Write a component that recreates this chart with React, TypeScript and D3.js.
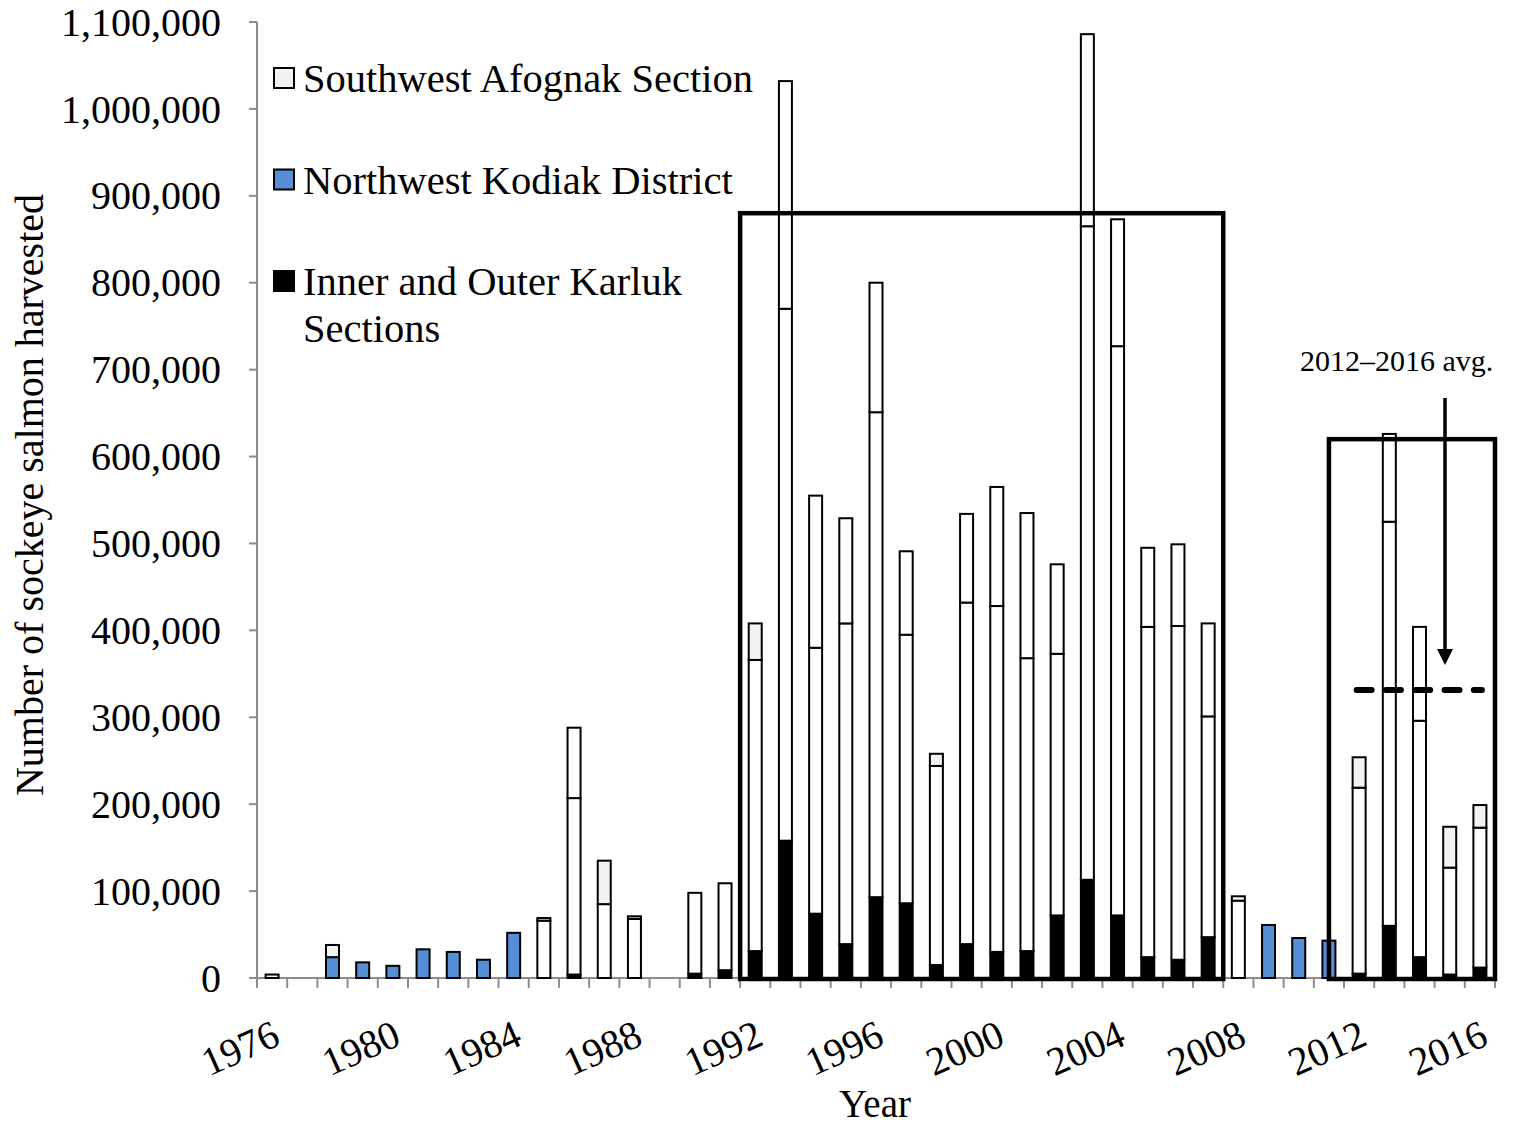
import React from "react";
import * as d3 from "d3";

const years: number[] = d3.range(1976, 2017);

// Inner and Outer Karluk Sections (bottom, black)
const karluk: number[] = [
  0, 0, 0, 0, 0, 0, 0, 0, 0, 0,
  4000, 0, 0, 0, 5000, 9000, 31000, 158000, 74000, 39000,
  93000, 86000, 15000, 39000, 30000, 31000, 72000, 113000, 72000, 24000,
  21000, 47000, 0, 0, 0, 0, 5000, 60000, 24000, 4000,
  12000,
];

// Northwest Kodiak District (middle)
const nwKodiak: number[] = [
  0, 0, 24000, 18000, 14000, 33000, 30000, 21000, 52000, 66000,
  203000, 85000, 68000, 0, 93000, 100000, 335000, 612000, 306000, 369000,
  558000, 309000, 229000, 393000, 398000, 337000, 301000, 752000, 655000, 380000,
  384000, 254000, 89000, 61000, 46000, 43000, 214000, 465000, 272000, 123000,
  161000,
];

// Southwest Afognak Section (top)
const swAfognak: number[] = [
  4000, 0, 14000, 0, 0, 0, 0, 0, 0, 3000,
  81000, 50000, 3000, 0, 0, 0, 42000, 262000, 175000, 121000,
  149000, 96000, 14000, 102000, 137000, 167000, 103000, 221000, 146000, 91000,
  94000, 107000, 5000, 0, 0, 0, 35000, 101000, 108000, 47000,
  26000,
];

// Years whose middle segment is drawn in the legend's blue
const blueMidYears: number[] = [1978, 1979, 1980, 1981, 1982, 1983, 1984, 2009, 2010, 2011];
// Years whose top segment is drawn in light grey
const greyTopYears: number[] = [1976, 1978, 1987, 1992, 1998, 2012, 2015, 2016];

const yTicks: number[] = d3.range(0, 1100001, 100000);
const xLabelYears: number[] = [1976, 1980, 1984, 1988, 1992, 1996, 2000, 2004, 2008, 2012, 2016];

const legendItems = [
  { label: ["Southwest Afognak Section"], fill: "#F2F2F2" },
  { label: ["Northwest Kodiak District"], fill: "#558ED5" },
  { label: ["Inner and Outer Karluk", "Sections"], fill: "#000000" },
];

const box1 = { from: 1992, to: 2007, top: 880000 };
const box2 = { from: 2011, to: 2016, top: 620000 };
const avgYears: number[] = [2012, 2013, 2014, 2015, 2016];

const W = 1513;
const H = 1128;
const FONT = "'Liberation Serif', 'Times New Roman', serif";
const AXIS_GREY = "#8C8C8C";

export default function App() {
  const x = d3.scaleBand<number>().domain(years).range([257, 1495]).padding(0);
  const y = d3.scaleLinear().domain([0, 1100000]).range([978, 22]);
  const bw = 13;
  const cx = (yr: number) => (x(yr) as number) + x.bandwidth() / 2;

  const totals = years.map((_, i) => karluk[i] + nwKodiak[i] + swAfognak[i]);
  const avg = d3.mean(avgYears.map((yr) => totals[years.indexOf(yr)])) as number;

  const segments: { yr: number; y0: number; y1: number; fill: string; key: string }[] = [];
  years.forEach((yr, i) => {
    const parts = [
      { v: karluk[i], fill: "#000000" },
      { v: nwKodiak[i], fill: blueMidYears.includes(yr) ? "#558ED5" : "#FFFFFF" },
      { v: swAfognak[i], fill: greyTopYears.includes(yr) ? "#F2F2F2" : "#FFFFFF" },
    ];
    let acc = 0;
    parts.forEach((p, j) => {
      if (p.v > 0) {
        segments.push({ yr, y0: acc, y1: acc + p.v, fill: p.fill, key: `${yr}-${j}` });
      }
      acc += p.v;
    });
  });

  const boundaries = d3.range(0, years.length + 1).map((i) => 257 + i * x.bandwidth());

  const b1x0 = x(box1.from) as number;
  const b1x1 = (x(box1.to) as number) + x.bandwidth();
  const b2x0 = cx(box2.from);
  const b2x1 = (x(box2.to) as number) + x.bandwidth();

  const dashX0 = cx(avgYears[0]) - bw / 2 + 4;
  const dashX1 = cx(avgYears[avgYears.length - 1]) + 2;
  const arrowX = 1445;

  return (
    <svg width={W} height={H} style={{ display: "block", position: "absolute", left: 0, top: 0 }} fontFamily={FONT}>
      <rect width={W} height={H} fill="#fff" />
      {/* y axis */}
      <line x1={257} x2={257} y1={y(1100000)} y2={y(0)} stroke={AXIS_GREY} strokeWidth={2} />
      {yTicks.map((t) => (
        <g key={t}>
          <line x1={249} x2={257} y1={y(t)} y2={y(t)} stroke={AXIS_GREY} strokeWidth={2} />
          <text x={221} y={y(t)} dy="0.34em" textAnchor="end" fontSize={40} fill="#000">
            {d3.format(",")(t)}
          </text>
        </g>
      ))}
      {/* x axis */}
      <line x1={257} x2={1495} y1={y(0)} y2={y(0)} stroke={AXIS_GREY} strokeWidth={2} />
      {boundaries.map((bx, i) => (
        <line key={i} x1={bx} x2={bx} y1={y(0)} y2={y(0) + 10} stroke={AXIS_GREY} strokeWidth={2} />
      ))}
      {xLabelYears.map((yr) => (
        <text
          key={yr}
          transform={`translate(${cx(yr) + 10},${1044}) rotate(-24)`}
          textAnchor="end"
          fontSize={40}
          fill="#000"
        >
          {yr}
        </text>
      ))}
      {/* bars */}
      {segments.map((s) => (
        <rect
          key={s.key}
          x={cx(s.yr) - bw / 2}
          y={y(s.y1)}
          width={bw}
          height={y(s.y0) - y(s.y1)}
          fill={s.fill}
          stroke="#000"
          strokeWidth={2}
        />
      ))}
      {/* highlight boxes */}
      <rect x={b1x0} y={y(box1.top)} width={b1x1 - b1x0} height={y(0) - y(box1.top) + 1} fill="none" stroke="#000" strokeWidth={4.5} />
      <rect x={b2x0} y={y(box2.top)} width={b2x1 - b2x0} height={y(0) - y(box2.top) + 1} fill="none" stroke="#000" strokeWidth={4.5} />
      {/* average line */}
      <line
        x1={dashX0}
        x2={dashX1}
        y1={y(avg)}
        y2={y(avg)}
        stroke="#000"
        strokeWidth={6}
        strokeDasharray="15 14.3"
        strokeLinecap="round"
      />
      {/* arrow */}
      <line x1={arrowX} x2={arrowX} y1={398} y2={652} stroke="#000" strokeWidth={3.5} />
      <path d={`M${arrowX - 8},${649} L${arrowX + 8},${649} L${arrowX},${665} Z`} fill="#000" />
      <text x={1300} y={371} fontSize={30} fill="#000">
        2012–2016 avg.
      </text>
      {/* legend */}
      {legendItems.map((it, i) => {
        const baseY = 92 + i * 101.5;
        return (
          <g key={i}>
            <rect x={274} y={baseY - 24} width={20} height={20} fill={it.fill} stroke="#000" strokeWidth={2} />
            {it.label.map((ln, j) => (
              <text key={j} x={303} y={baseY + j * 47} fontSize={40.5} fill="#000">
                {ln}
              </text>
            ))}
          </g>
        );
      })}
      {/* axis titles */}
      <text transform={`translate(43,${495}) rotate(-90)`} textAnchor="middle" fontSize={40} fill="#000">
        Number of sockeye salmon harvested
      </text>
      <text x={875} y={1117} textAnchor="middle" fontSize={39} fill="#000">
        Year
      </text>
    </svg>
  );
}
